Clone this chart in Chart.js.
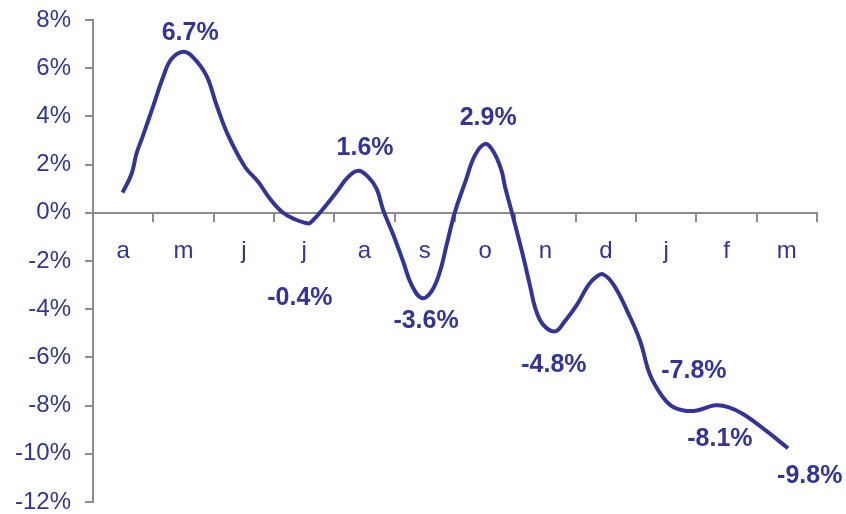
<!DOCTYPE html>
<html>
<head>
<meta charset="utf-8">
<script src="https://cdn.jsdelivr.net/npm/chart.js@4.4.0/dist/chart.umd.min.js"></script>
<style>
  html, body { margin: 0; padding: 0; background: #fff; }
  #wrap { width: 846px; height: 514px; }
</style>
</head>
<body>
<div id="wrap"><canvas id="chart"></canvas></div>
<script>
// Month initials, April to March
const months = ['a','m','j','j','a','s','o','n','d','j','f','m'];
// Curve positions along the month axis (0 = left edge, 0.5 = centre of first month)
const pointX = [0.49,0.64,0.72,0.83,1.0,1.17,1.30,1.50,1.66,1.88,2.05,2.24,2.52,2.74,2.93,3.13,3.32,3.57,3.65,3.82,
  4.04,4.23,4.40,4.56,4.70,4.81,4.98,5.14,5.28,5.45,5.61,5.75,5.86,6.0,6.17,6.33,6.50,6.64,6.77,6.83,6.94,
  7.11,7.24,7.33,7.46,7.66,7.82,8.02,8.21,8.33,8.45,8.63,8.87,9.07,9.23,9.43,9.59,9.79,10.01,10.31,10.53,10.78,11.16,11.52];
// Values in percent
const pointY = [0.84,1.62,2.45,3.21,4.45,5.69,6.38,6.68,6.45,5.69,4.45,3.21,1.90,1.28,0.59,0.04,-0.24,-0.44,-0.30,0.18,
  0.87,1.49,1.74,1.49,1.00,0.11,-0.93,-2.02,-2.99,-3.54,-3.26,-2.44,-1.34,0.04,1.28,2.38,2.86,2.52,1.76,1.07,0.04,
  -1.61,-2.99,-3.95,-4.64,-4.92,-4.50,-3.82,-3.00,-2.68,-2.55,-2.99,-4.16,-5.33,-6.71,-7.60,-8.02,-8.20,-8.20,-7.99,-8.06,-8.36,-9.05,-9.77];
// Value callouts and where they sit (axis units)
const calloutText = ['6.7%','1.6%','2.9%','-0.4%','-3.6%','-4.8%','-7.8%','-8.1%','-9.8%'];
const calloutX = [1.61,4.51,6.55,3.43,5.52,7.64,9.96,10.39,11.88];
const calloutY = [7.47,2.70,3.93,-3.54,-4.49,-6.33,-6.56,-9.37,-10.94];
const yTicks = [-12,-10,-8,-6,-4,-2,0,2,4,6,8];

const blue = '#333399';
const grey = '#8c8c8c';
const FONT = "'Liberation Sans', Arial, sans-serif";

const callouts = {
  id: 'callouts',
  afterDatasetsDraw(chart){
    const {ctx, scales} = chart;
    ctx.save();
    ctx.fillStyle = blue;
    ctx.font = 'bold 25px ' + FONT;
    ctx.textAlign = 'center';
    ctx.textBaseline = 'middle';
    calloutText.forEach((t,i)=>{
      ctx.fillText(t, scales.x.getPixelForValue(calloutX[i]), scales.y.getPixelForValue(calloutY[i]));
    });
    ctx.restore();
  }
};

new Chart(document.getElementById('chart'), {
  type: 'line',
  data: {
    datasets: [{
      data: pointX.map((x,i)=>({x, y: pointY[i]})),
      borderColor: blue,
      borderWidth: 4,
      pointRadius: 0,
      tension: 0.4,
      fill: false
    }]
  },
  plugins: [callouts],
  options: {
    responsive: true,
    maintainAspectRatio: false,
    animation: false,
    layout: { padding: { top: 20, right: 29, bottom: 12, left: 0 } },
    plugins: { legend: { display: false }, tooltip: { enabled: false } },
    scales: {
      y: {
        type: 'linear',
        min: -12, max: 8,
        afterBuildTicks: axis => { axis.ticks = yTicks.map(v=>({value:v})); },
        afterFit: s => { s.width = 93; s.paddingTop = 0; s.paddingBottom = 0; },
        grid: { drawOnChartArea: false, tickLength: 8, color: grey, lineWidth: 2 },
        border: { color: grey, width: 2 },
        ticks: { color: blue, padding: 14, font: { family: FONT, size: 24, lineHeight: 1 }, callback: v => v + '%' }
      },
      x: {
        type: 'linear',
        min: 0, max: 12,
        position: { y: 0 },
        afterFit: s => { s.height = 0; },
        grid: { drawOnChartArea: false, drawTicks: true, tickLength: 8, color: grey, lineWidth: 2 },
        border: { color: grey, width: 2 },
        ticks: { display: false, stepSize: 1 }
      },
      xl: {
        type: 'linear',
        axis: 'x',
        min: 0, max: 12,
        position: { y: 0 },
        afterFit: s => { s.height = 0; },
        afterBuildTicks: axis => { axis.ticks = months.map((m,i)=>({value: i + 0.5})); },
        grid: { display: false, drawTicks: false },
        border: { display: false },
        ticks: {
          color: blue, padding: 24, autoSkip: false, maxRotation: 0,
          font: { family: FONT, size: 24 },
          callback: (v, i) => months[i]
        }
      }
    }
  }
});
</script>
</body>
</html>
